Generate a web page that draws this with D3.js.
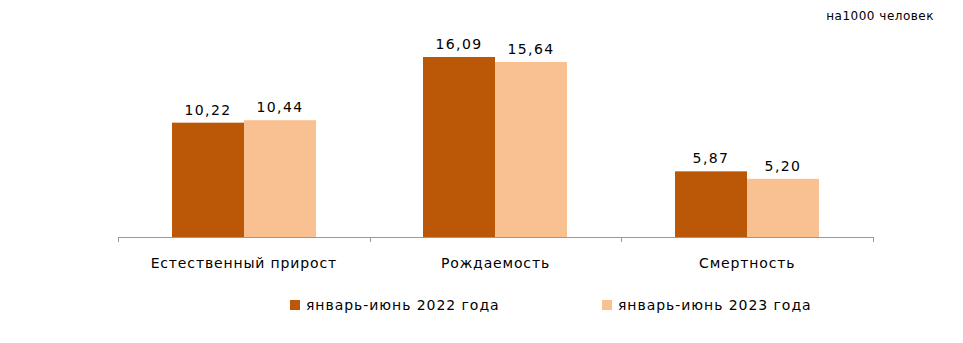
<!DOCTYPE html>
<html><head><meta charset="utf-8">
<script src="https://cdn.jsdelivr.net/npm/d3@7/dist/d3.min.js"></script>
<style>body{margin:0;background:#fff}svg text{font-family:"DejaVu Sans",sans-serif;fill:#000}</style>
</head><body>
<svg id="c" width="963" height="343"></svg>
<script>
const categories = ["Естественный прирост", "Рождаемость", "Смертность"];
const series = ["январь-июнь 2022 года", "январь-июнь 2023 года"];
const values2022 = [10.22, 16.09, 5.87];
const values2023 = [10.44, 15.64, 5.20];
const colors = ["#BB5808", "#F9C191"];
const unitLabel = "на1000 человек";

const svg = d3.select("#c");
const baseY = 237;
const x = d3.scaleBand().domain(categories).range([118, 873]).paddingInner(0).paddingOuter(0);
const y = d3.scaleLinear().domain([0, 16.09]).range([baseY, 57]);
const bw = 72;
const data = [values2022, values2023];

categories.forEach((c, i) => {
  const cx = Math.round(x(c) + x.bandwidth() / 2);
  data.forEach((vals, s) => {
    const x0 = cx - bw + s * bw;
    svg.append("rect").attr("x", x0).attr("y", y(vals[i]))
      .attr("width", bw).attr("height", baseY - y(vals[i])).attr("fill", colors[s]);
    svg.append("text").attr("x", x0 + bw / 2).attr("y", y(vals[i]) - 8)
      .attr("text-anchor", "middle").attr("font-size", 14).attr("letter-spacing", 1.4)
      .text(vals[i].toFixed(2).replace(".", ","));
  });
});

// axis
const ax = svg.append("g");
ax.append("line").attr("x1", 118).attr("x2", 873).attr("y1", baseY + 0.5).attr("y2", baseY + 0.5).attr("stroke", "#999");
const ticks = categories.map(c => x(c)).concat([x.range()[1]]);
ticks.forEach(t => ax.append("line").attr("x1", Math.round(t) + 0.5).attr("x2", Math.round(t) + 0.5).attr("y1", baseY).attr("y2", baseY + 5).attr("stroke", "#999"));
categories.forEach(c => {
  svg.append("text").attr("x", x(c) + x.bandwidth() / 2).attr("y", 268)
    .attr("text-anchor", "middle").attr("font-size", 14).attr("letter-spacing", 0.85).text(c);
});

// legend
const lx = [290, 602];
series.forEach((s, i) => {
  svg.append("rect").attr("x", lx[i]).attr("y", 300).attr("width", 10).attr("height", 10).attr("fill", colors[i]);
  svg.append("text").attr("x", lx[i] + 16).attr("y", 310).attr("font-size", 14).attr("letter-spacing", 0.95).text(s);
});

svg.append("text").attr("x", 934).attr("y", 20).attr("text-anchor", "end").attr("font-size", 12).attr("letter-spacing", 0.5).text(unitLabel);
</script>
</body></html>
